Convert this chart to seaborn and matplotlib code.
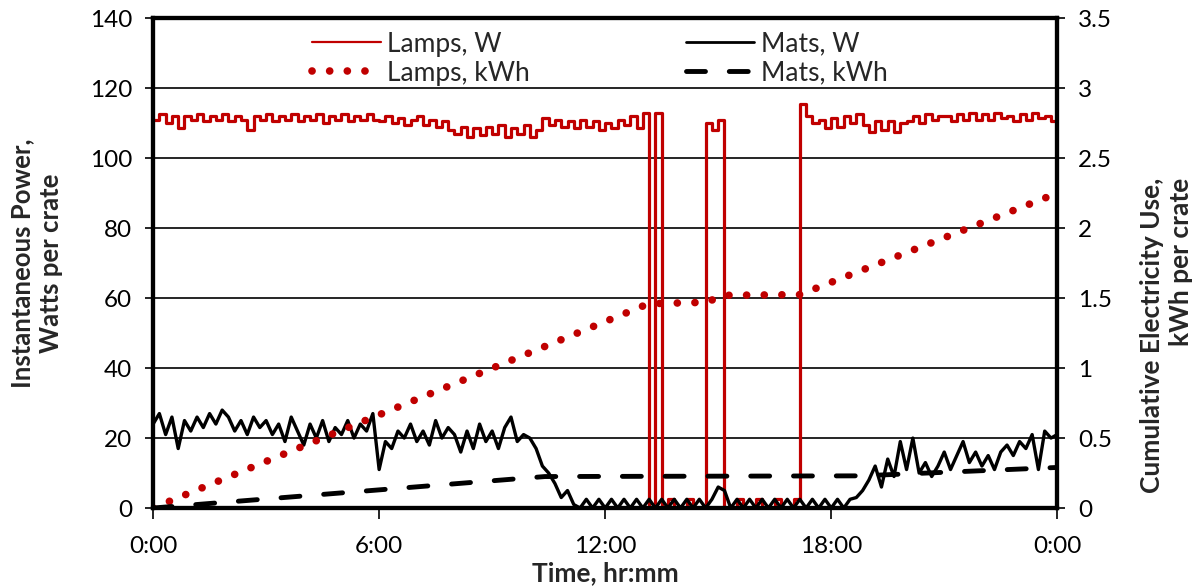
import matplotlib
matplotlib.use('Agg')
import matplotlib.pyplot as plt
from matplotlib.lines import Line2D
import numpy as np
import pandas as pd
import seaborn as sns

# 10-minute samples, 0:00 .. 24:00
minutes = np.arange(0, 24 * 60 + 1, 10)

lamps_w = [
    111, 112.5, 110, 112, 108.5, 112,
    111, 112.5, 110.5, 112, 111, 112.5,
    110.5, 112, 111, 108, 112, 111,
    112.5, 110.5, 112, 111, 112.5, 110.5,
    112, 111, 112.5, 110, 112, 111,
    112.5, 110.5, 112, 111, 112.5, 111,
    110.5, 112, 110, 111.5, 109.5, 111,
    112, 109.5, 111, 109, 110.5, 108,
    107, 109, 106, 108.5, 106.5, 109,
    107, 109.5, 106, 108.5, 107, 109.5,
    106, 108, 111.5, 109.5, 111, 109,
    110.5, 108.5, 111, 109, 110.5, 108,
    110, 108.5, 111, 109.5, 112, 108.5,
    113, 0, 113, 0, 2.5, 0,
    0, 2.5, 0, 0, 110, 108,
    111, 0, 0, 2.5, 0, 0,
    2.5, 0, 0, 2.5, 0, 0,
    2.5, 115.5, 112, 110, 111, 108.5,
    111.5, 109, 112, 110, 112.5, 109.5,
    107.5, 110.5, 108, 110.5, 107.5, 110,
    110.5, 112, 110, 112.5, 111, 112,
    112, 110.5, 112.5, 111, 113, 111,
    112.5, 111, 113, 111.5, 112, 110.5,
    112.5, 111, 113, 111.5, 112, 110.5,
    112,
]

mats_w = [
    24, 27, 21, 26, 17, 25,
    22, 26, 23, 27, 24, 28,
    26, 22, 25, 21, 26, 23,
    25, 21, 24, 19, 26, 22,
    18, 24, 20, 25, 19, 23,
    21, 25, 20, 24, 22, 27,
    11, 19, 17, 22, 20, 24,
    19, 22, 18, 25, 20, 23,
    21, 16, 22, 17, 24, 19,
    22, 17, 23, 26, 19, 21,
    20, 17, 12, 10, 7, 3,
    5, 1, 0, 2.5, 0, 2.5,
    0, 2.5, 0, 2.5, 0, 2.5,
    0, 2.5, 0, 2.5, 0, 2.5,
    0, 2.5, 0, 2.5, 0, 2.5,
    6, 5, 0, 2.5, 0, 2.5,
    0, 2.5, 0, 2.5, 0, 2.5,
    0, 2.5, 0, 2.5, 0, 2.5,
    0, 2.5, 0, 2.5, 3, 5,
    8, 12, 6, 14, 9, 19,
    11, 20, 10, 13, 9, 12,
    16, 11, 15, 19, 13, 16,
    12, 15, 11, 16, 18, 15,
    19, 17, 21, 11, 22, 20,
    21,
]

lamps_kwh_hr = [0, 13.15, 14.67, 15.17, 17.17, 24]
lamps_kwh = [0, 1.46, 1.47, 1.52, 1.525, 2.25]
mats_kwh_hr = [0, 10.4, 18.8, 24]
mats_kwh = [0, 0.225, 0.23, 0.29]

tick_hours = [0, 6, 12, 18, 24]
tick_labels = ['0:00', '6:00', '12:00', '18:00', '0:00']

RED = '#c00000'
DOTS = (0, (0.01, 2.3))
DASHES = (0, (3.9, 4.9))

sns.set_theme(style='white')
plt.rcParams['font.family'] = ['Lato', 'DejaVu Sans']

power = pd.DataFrame({'hours': minutes / 60, 'lamps': lamps_w, 'mats': mats_w})
lamps_cum = pd.DataFrame({'hours': lamps_kwh_hr, 'kwh': lamps_kwh})
mats_cum = pd.DataFrame({'hours': mats_kwh_hr, 'kwh': mats_kwh})

fig = plt.figure(figsize=(11.96, 5.88), dpi=100)
ax = fig.add_axes([0.128, 0.136, 0.756, 0.833])
ax2 = ax.twinx()

sns.lineplot(data=power, x='hours', y='lamps', ax=ax, color=RED, lw=2.3,
             drawstyle='steps-post', estimator=None)
sns.lineplot(data=power, x='hours', y='mats', ax=ax, color='black', lw=2.4,
             estimator=None)
sns.lineplot(data=lamps_cum, x='hours', y='kwh', ax=ax2, color=RED, lw=5.5,
             linestyle=DOTS, dash_capstyle='round', estimator=None)
sns.lineplot(data=mats_cum, x='hours', y='kwh', ax=ax2, color='black', lw=3.5,
             linestyle=DASHES, dash_capstyle='round', estimator=None)

ax.set_xlim(0, 24)
ax.set_ylim(0, 140)
ax.set_yticks(range(0, 141, 20))
ax.set_xticks(tick_hours)
ax.set_xticklabels(tick_labels)
ax2.set_ylim(0, 3.5)
ax2.set_yticks(np.arange(0, 3.51, 0.5))
ax2.set_yticklabels(['0', '0.5', '1', '1.5', '2', '2.5', '3', '3.5'])

ax.yaxis.grid(True, color='black', lw=1.2)
ax.xaxis.grid(False)
ax2.grid(False)

for a in (ax, ax2):
    for s in a.spines.values():
        s.set_color('black')
        s.set_linewidth(3)
    a.tick_params(axis='both', direction='out', length=6, width=1.2,
                  color='black', labelsize=17.5, labelcolor='black', pad=9)
ax.tick_params(axis='y', left=True, right=False)
ax.tick_params(axis='x', bottom=True, length=8, pad=12)
ax2.tick_params(axis='y', right=True, left=False)
ax.set_ylabel('')
ax2.set_ylabel('')

ax.set_xlabel('Time, hr:mm', fontsize=19, fontweight='bold', labelpad=3)
fig.text(0.0305, 0.553, 'Instantaneous Power,\nWatts per crate',
         rotation=90, ha='center', va='center', fontsize=18.5,
         fontweight='bold', linespacing=1.28)
fig.text(0.975, 1 - 178 / 588, 'Cumulative Electricity Use,\nkWh per crate',
         rotation=90, ha='center', va='top', multialignment='right',
         fontsize=19, fontweight='bold', linespacing=1.25)

handles = [
    Line2D([], [], color=RED, lw=1.6),
    Line2D([], [], color=RED, lw=5.5, linestyle=DOTS, dash_capstyle='round'),
    Line2D([], [], color='black', lw=2.0),
    Line2D([], [], color='black', lw=3.5, linestyle=DASHES, dash_capstyle='round'),
]
labels = ['Lamps, W', 'Lamps, kWh', 'Mats, W', 'Mats, kWh']
ax2.legend(handles, labels, ncol=2, frameon=False, loc='upper center',
           bbox_to_anchor=(0.494, 1.021), handlelength=2.6, columnspacing=5.9,
           fontsize=19, labelspacing=0.15, handletextpad=0.25)

plt.savefig('out.png', dpi=100)
